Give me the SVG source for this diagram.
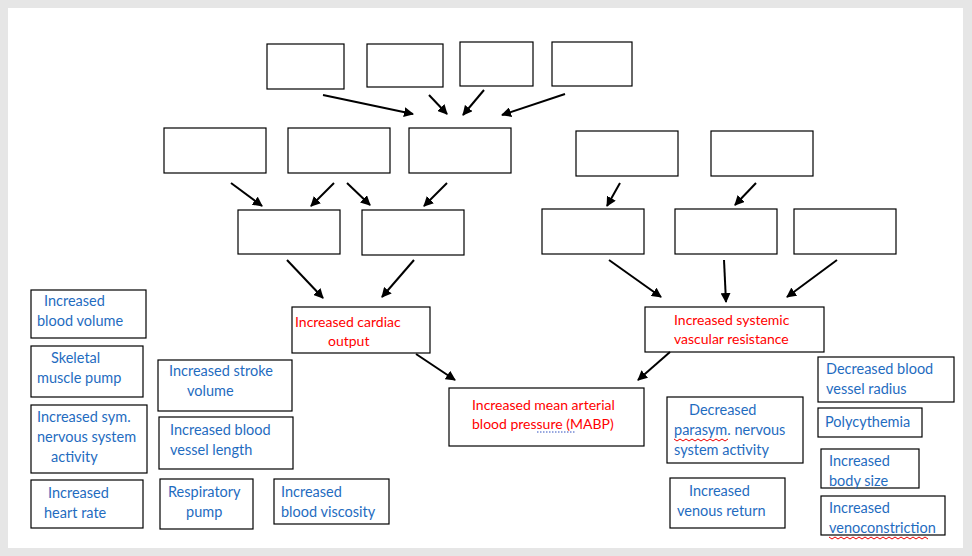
<svg xmlns="http://www.w3.org/2000/svg" width="972" height="556" viewBox="0 0 972 556">
<style>
.b{fill:#fff;stroke:#000;stroke-width:1.2}
.t{font-family:Lato,"Open Sans",sans-serif;font-size:14.5px;fill:#1f6cbf}
.r{font-family:Lato,"Open Sans",sans-serif;font-size:14px;fill:#ff0000}
.a{stroke:#000;stroke-width:2;marker-end:url(#m)}
.w{fill:none;stroke:#e00;stroke-width:1}
</style>
<defs><marker id="m" viewBox="0 0 10 10" refX="9" refY="5" markerWidth="5" markerHeight="5" orient="auto"><path d="M0,0L10,5L0,10z" fill="#000"/></marker></defs>
<rect width="972" height="556" fill="#e6e6e6"/>
<rect x="8" y="8" width="955" height="540" fill="#fff"/>
<g id="empty">
<rect class="b" x="267" y="44" width="77" height="45"/>
<rect class="b" x="367" y="44" width="76" height="43"/>
<rect class="b" x="460" y="42" width="73" height="44"/>
<rect class="b" x="552" y="42" width="80" height="44"/>
<rect class="b" x="164" y="128" width="102" height="45"/>
<rect class="b" x="288" y="128" width="102" height="45"/>
<rect class="b" x="409" y="128" width="102" height="45"/>
<rect class="b" x="576" y="131" width="102" height="45"/>
<rect class="b" x="711" y="131" width="102" height="45"/>
<rect class="b" x="238" y="210" width="102" height="44"/>
<rect class="b" x="362" y="210" width="102" height="45"/>
<rect class="b" x="542" y="209" width="102" height="45"/>
<rect class="b" x="675" y="209" width="102" height="45"/>
<rect class="b" x="794" y="209" width="102" height="45"/>
</g>
<g id="cardiac"><rect class="b" x="292" y="307" width="138" height="46"/><text class="r" x="295" y="327">Increased cardiac</text><text class="r" x="328" y="346">output</text></g>
<g id="svr"><rect class="b" x="645" y="307" width="179" height="45"/><text class="r" x="674" y="325">Increased systemic</text><text class="r" x="674" y="344">vascular resistance</text></g>
<g id="mabp"><rect class="b" x="449" y="388" width="195" height="58"/><text class="r" x="472" y="410">Increased mean arterial</text><text class="r" x="472" y="429">blood pressure  (MABP)</text><path d="M537 432h38" stroke="#3050c0" stroke-dasharray="1.5 1.5"/></g>
<g id="bv"><rect class="b" x="31" y="290" width="115" height="48"/><text class="t" x="44" y="306">Increased</text><text class="t" x="37" y="326">blood volume</text></g>
<g id="smp"><rect class="b" x="31" y="346" width="112" height="51"/><text class="t" x="51" y="363">Skeletal</text><text class="t" x="37" y="383">muscle pump</text></g>
<g id="sym"><rect class="b" x="31" y="405" width="116" height="68"/><text class="t" x="37" y="422">Increased sym.</text><text class="t" x="37" y="442">nervous system</text><text class="t" x="51" y="462">activity</text></g>
<g id="hr"><rect class="b" x="31" y="480" width="112" height="48"/><text class="t" x="48" y="498">Increased</text><text class="t" x="44" y="518">heart rate</text></g>
<g id="sv"><rect class="b" x="158" y="360" width="134" height="51"/><text class="t" x="169" y="376">Increased stroke</text><text class="t" x="187" y="396">volume</text></g>
<g id="vl"><rect class="b" x="159" y="417" width="134" height="52"/><text class="t" x="170" y="435">Increased blood</text><text class="t" x="170" y="455">vessel length</text></g>
<g id="rp"><rect class="b" x="160" y="479" width="93" height="50"/><text class="t" x="168" y="497">Respiratory</text><text class="t" x="186" y="517">pump</text></g>
<g id="visc"><rect class="b" x="274" y="479" width="115" height="45"/><text class="t" x="281" y="497">Increased</text><text class="t" x="281" y="517">blood viscosity</text></g>
<g id="para"><rect class="b" x="667" y="397" width="136" height="66"/><text class="t" x="689" y="415">Decreased</text><text class="t" x="674" y="435">parasym. nervous</text><text class="t" x="674" y="455">system activity</text><path class="w" d="M674 439l3 2 3-2 3 2 3-2 3 2 3-2 3 2 3-2 3 2 3-2 3 2 3-2 3 2 3-2 3 2 3-2 3 2 3-2"/></g>
<g id="vr"><rect class="b" x="670" y="478" width="115" height="50"/><text class="t" x="689" y="496">Increased</text><text class="t" x="677" y="516">venous return</text></g>
<g id="rad"><rect class="b" x="818" y="357" width="136" height="45"/><text class="t" x="826" y="374">Decreased  blood</text><text class="t" x="826" y="394">vessel radius</text></g>
<g id="poly"><rect class="b" x="818" y="408" width="104" height="29"/><text class="t" x="825" y="427">Polycythemia</text></g>
<g id="body"><rect class="b" x="821" y="449" width="98" height="39"/><text class="t" x="829" y="466">Increased</text><text class="t" x="829" y="486">body size</text></g>
<g id="veno"><rect class="b" x="821" y="496" width="124" height="39"/><text class="t" x="829" y="513">Increased</text><text class="t" x="829" y="533">venoconstriction</text><path class="w" d="M829 537l3 2 3-2 3 2 3-2 3 2 3-2 3 2 3-2 3 2 3-2 3 2 3-2 3 2 3-2 3 2 3-2 3 2 3-2 3 2 3-2 3 2 3-2 3 2 3-2 3 2 3-2 3 2 3-2 3 2 3-2 3 2 3-2 3 2"/></g>
<g id="connectors">
<line class="a" x1="323" y1="95" x2="413" y2="114"/>
<line class="a" x1="429" y1="95" x2="447" y2="114"/>
<line class="a" x1="484" y1="90" x2="463" y2="115"/>
<line class="a" x1="565" y1="94" x2="502" y2="115"/>
<line class="a" x1="231" y1="183" x2="262" y2="206"/>
<line class="a" x1="334" y1="183" x2="311" y2="206"/>
<line class="a" x1="347" y1="183" x2="370" y2="205"/>
<line class="a" x1="447" y1="183" x2="424" y2="206"/>
<line class="a" x1="620" y1="183" x2="607" y2="206"/>
<line class="a" x1="756" y1="183" x2="735" y2="205"/>
<line class="a" x1="287" y1="260" x2="323" y2="298"/>
<line class="a" x1="414" y1="260" x2="382" y2="297"/>
<line class="a" x1="609" y1="260" x2="661" y2="297"/>
<line class="a" x1="724" y1="260" x2="726" y2="302"/>
<line class="a" x1="837" y1="260" x2="787" y2="297"/>
<line class="a" x1="416" y1="354" x2="455" y2="380"/>
<line class="a" x1="670" y1="352" x2="638" y2="380"/>
</g>
</svg>
